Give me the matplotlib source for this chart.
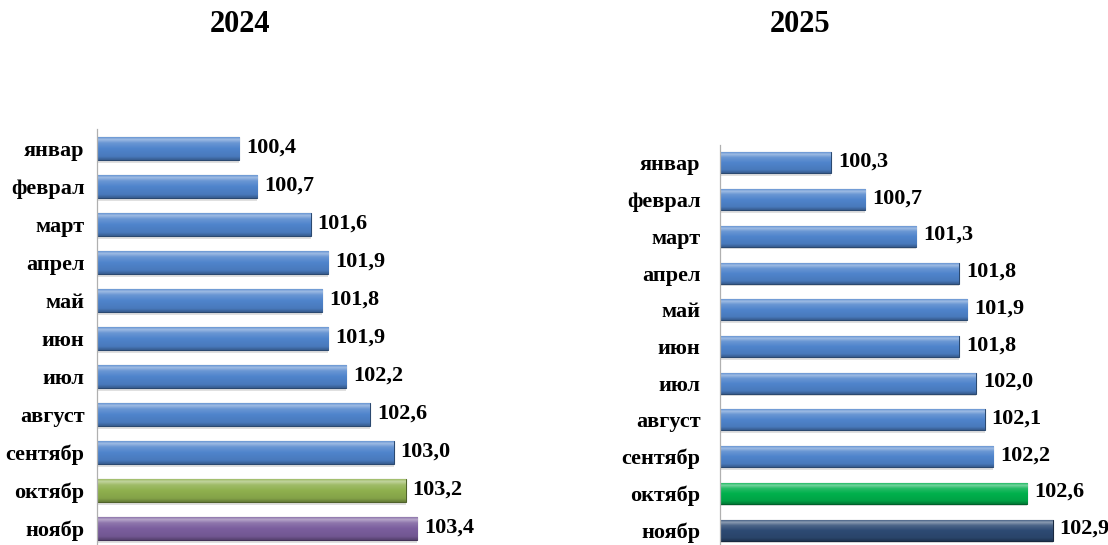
import matplotlib
matplotlib.use("Agg")
import matplotlib.pyplot as plt
import matplotlib.colors as mcolors
import numpy as np

plt.rcParams['font.family'] = ['Liberation Serif', 'DejaVu Serif']
plt.rcParams['font.weight'] = 'bold'

months = ["январ", "феврал", "март", "апрел", "май", "июн", "июл",
          "август", "сентябр", "октябр", "ноябр"]
vals_2024 = [100.4, 100.7, 101.6, 101.9, 101.8, 101.9, 102.2, 102.6, 103.0, 103.2, 103.4]
vals_2025 = [100.3, 100.7, 101.3, 101.8, 101.9, 101.8, 102.0, 102.1, 102.2, 102.6, 102.9]

blue = "#4F84CC"
colors_2024 = [blue] * 9 + ["#8FB04E", "#7B5E9E"]
colors_2025 = [blue] * 9 + ["#00B04C", "#2D4A73"]


def shade(c, f):
    r = np.array(mcolors.to_rgb(c))
    if f >= 0:
        return r + (1 - r) * f
    return r * (1 + f)


def gradient(c):
    # light top highlight -> base -> slightly darker bottom
    stops = [(0.0, 0.15), (0.1, 0.45), (0.25, 0.15), (0.5, 0.0), (0.85, -0.08), (1.0, -0.3)]
    t = np.linspace(0, 1, 60)
    pos = [s[0] for s in stops]
    fac = np.interp(t, pos, [s[1] for s in stops])
    return np.array([shade(c, f) for f in fac]).reshape(-1, 1, 3)


def draw(ax, vals, cols, xmin, xmax, h):
    y = np.arange(len(months))
    # soft shadow
    ax.barh(y + 0.07, np.array(vals) - xmin, left=xmin, height=h, color="#000000",
            alpha=0.12, linewidth=0, zorder=1)
    bars = ax.barh(y, np.array(vals) - xmin, left=xmin, height=h, color=cols,
                   edgecolor=[shade(c, -0.45) for c in cols], linewidth=0.8, zorder=2)
    for b, c in zip(bars, cols):
        x0, y0, w, hh = b.get_x(), b.get_y(), b.get_width(), b.get_height()
        im = ax.imshow(gradient(c), extent=[x0, x0 + w, y0 + hh, y0], aspect='auto',
                       origin='upper', zorder=2.5)
        im.set_clip_path(b)
    for v, yy in zip(vals, y):
        ax.annotate(f"{v:.1f}".replace(".", ","), (v, yy), xytext=(5, 1),
                    textcoords="offset points", ha="left", va="center",
                    fontsize=16, fontweight="bold", clip_on=False)
    ax.set_xlim(xmin, xmax)
    ax.set_ylim(len(months) - 0.5, -0.5)
    ax.set_yticks(y)
    ax.set_yticklabels(months, fontsize=16, fontweight="bold")
    ax.set_xticks([])
    for s in ["top", "right", "bottom"]:
        ax.spines[s].set_visible(False)
    ax.spines["left"].set_color("#B0B0B0")
    ax.spines["left"].set_linewidth(0.9)
    ax.tick_params(axis="y", length=0)


fig = plt.figure(figsize=(11.08, 5.45), dpi=100)

ax1 = fig.add_axes([97 / 1108, -2.5 / 545, 356 / 1108, 418 / 545])
draw(ax1, vals_2024, colors_2024, 98, 104, 0.6)
ax1.tick_params(axis="y", pad=9)

ax2 = fig.add_axes([720 / 1108, -3.5 / 545, 384 / 1108, 404 / 545])
draw(ax2, vals_2025, colors_2025, 99, 103.5, 0.57)
ax2.tick_params(axis="y", pad=14)

fig.text(240 / 1108, 1 - 25 / 545, "2024", ha="center", va="center", fontsize=22, fontweight="bold")
fig.text(800 / 1108, 1 - 25 / 545, "2025", ha="center", va="center", fontsize=22, fontweight="bold")

fig.savefig("out.png", dpi=100)
